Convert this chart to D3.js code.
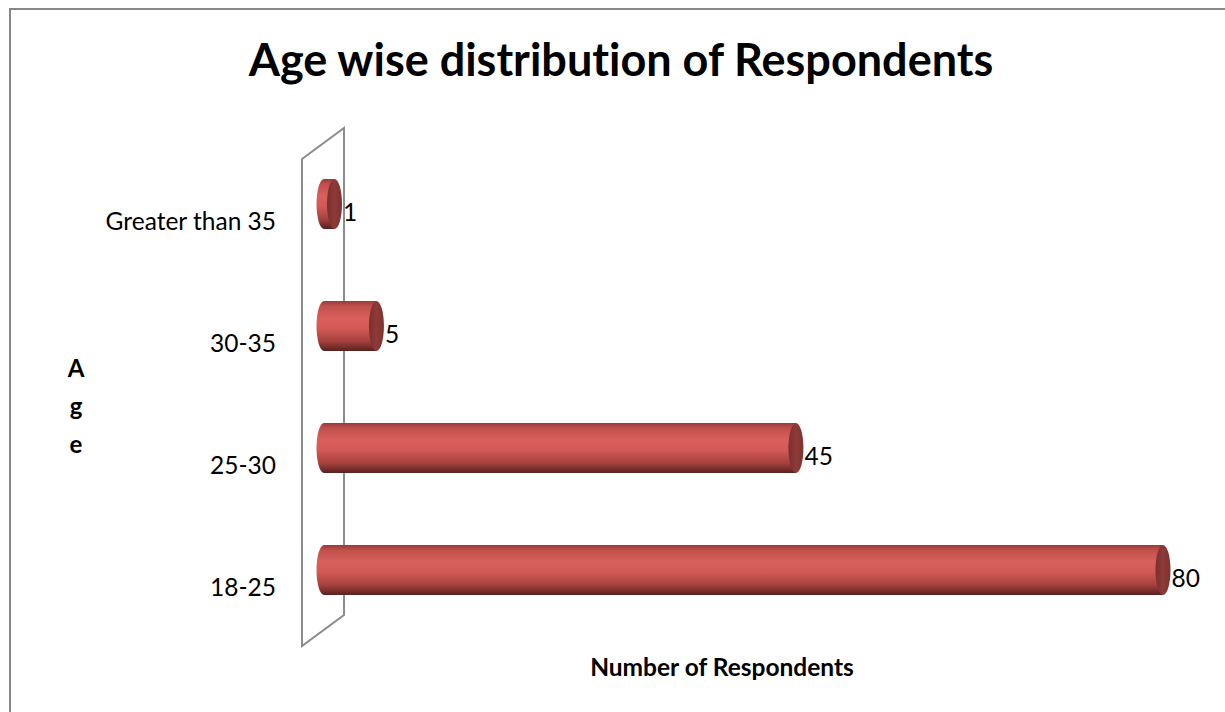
<!DOCTYPE html>
<html><head><meta charset="utf-8">
<script src="https://cdn.jsdelivr.net/npm/d3@7"></script>
<style>body{margin:0;background:#fff}svg{display:block}text{font-variant-ligatures:none;font-feature-settings:"liga" 0}</style>
</head><body>
<svg id="c" width="1225" height="712"></svg>
<script>
const categories = ["18-25", "25-30", "30-35", "Greater than 35"];
const values = [80, 45, 5, 1];
const titleText = "Age wise distribution of Respondents";
const xTitle = "Number of Respondents";
const yTitle = "Age";

const svg = d3.select("#c");
const FONT = "Lato, 'Open Sans', sans-serif";

// outer border
svg.append("path").attr("d","M10,712 L10,9 L1225,9").attr("fill","none").attr("stroke","#868686").attr("stroke-width",2);

const x = d3.scaleLinear().domain([0, 80]).range([324, 1163]);
const y = d3.scaleBand().domain(categories).range([631, 143]).paddingInner(0.59).paddingOuter(0.295);

// back wall (3D parallelogram)
svg.append("path").attr("d","M302,159 L344,128 L344,615 L302,646 Z").attr("fill","none").attr("stroke","#8c8c8c").attr("stroke-width",2);

const defs = svg.append("defs");
const g = defs.append("linearGradient").attr("id","body").attr("x1",0).attr("y1",0).attr("x2",0).attr("y2",1);
[[0,"#963b39"],[0.1,"#c04f4c"],[0.33,"#d95f5b"],[0.55,"#d25955"],[0.8,"#a5413e"],[1,"#57211f"]].forEach(s=>g.append("stop").attr("offset",s[0]).attr("stop-color",s[1]));
const gc = defs.append("linearGradient").attr("id","cap").attr("x1",0).attr("y1",0).attr("x2",1).attr("y2",0);
[[0,"#7a302e"],[0.5,"#8e3a38"],[1,"#7e3230"]].forEach(s=>gc.append("stop").attr("offset",s[0]).attr("stop-color",s[1]));

const rx = 7.5;
const bars = svg.append("g");
categories.forEach((c,i)=>{
  const top = y(c), h = y.bandwidth(), x0 = x(0), x1 = x(values[i]);
  const ry = h/2, cy = top + ry;
  bars.append("path")
    .attr("d",`M${x0},${top} L${x1},${top} L${x1},${top+h} L${x0},${top+h} A${rx},${ry} 0 0 1 ${x0},${top} Z`)
    .attr("fill","url(#body)");
  bars.append("ellipse").attr("cx",x1).attr("cy",cy).attr("rx",rx).attr("ry",ry).attr("fill","url(#cap)");
  svg.append("text").attr("x",x1+rx+1).attr("y",cy+17).attr("font-family",FONT).attr("font-size",24.5).attr("fill","#000").text(values[i]);
  svg.append("text").attr("x",276).attr("y",cy+26).attr("text-anchor","end").attr("font-family",FONT).attr("font-size",24.5).attr("fill","#000").text(c);
});

svg.append("text").attr("x",621).attr("y",76).attr("text-anchor","middle").attr("font-family",FONT).attr("font-weight","bold").attr("font-size",45).attr("fill","#000").text(titleText);
svg.append("text").attr("x",722).attr("y",676).attr("text-anchor","middle").attr("font-family",FONT).attr("font-weight","bold").attr("font-size",24.5).attr("fill","#000").text(xTitle);
const yt = svg.append("text").attr("font-family",FONT).attr("font-weight","bold").attr("font-size",24).attr("text-anchor","middle");
yTitle.split("").forEach((ch,i)=>yt.append("tspan").attr("x",76).attr("y",377+i*38).text(ch));
</script>
</body></html>
